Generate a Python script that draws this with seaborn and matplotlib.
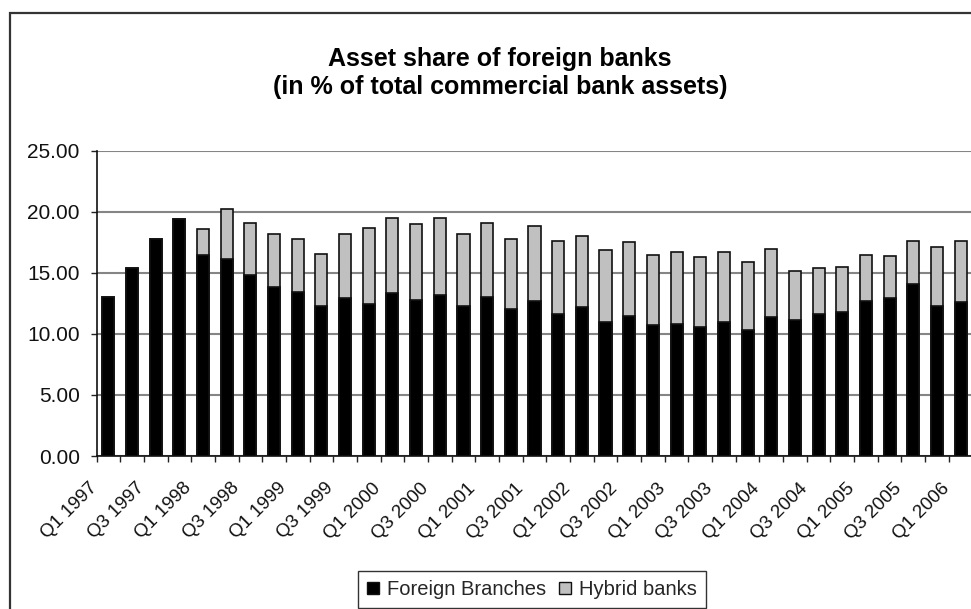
import matplotlib
matplotlib.use("Agg")
import matplotlib.pyplot as plt
from matplotlib.patches import Rectangle, Patch
from matplotlib.ticker import FixedLocator, FormatStrFormatter
from matplotlib.transforms import ScaledTranslation
import numpy as np
import pandas as pd
import seaborn as sns

# Quarterly observations, Q1 1997 .. Q1 2006
quarters = [
    "Q1 1997", "Q2 1997", "Q3 1997", "Q4 1997",
    "Q1 1998", "Q2 1998", "Q3 1998", "Q4 1998",
    "Q1 1999", "Q2 1999", "Q3 1999", "Q4 1999",
    "Q1 2000", "Q2 2000", "Q3 2000", "Q4 2000",
    "Q1 2001", "Q2 2001", "Q3 2001", "Q4 2001",
    "Q1 2002", "Q2 2002", "Q3 2002", "Q4 2002",
    "Q1 2003", "Q2 2003", "Q3 2003", "Q4 2003",
    "Q1 2004", "Q2 2004", "Q3 2004", "Q4 2004",
    "Q1 2005", "Q2 2005", "Q3 2005", "Q4 2005",
    "Q1 2006",
]

# Share of total commercial bank assets (%)
foreign_branches = [
    13.04, 15.42, 17.79, 19.37, 16.45, 16.10, 14.79, 13.86, 13.45, 12.28,
    12.96, 12.41, 13.31, 12.80, 13.18, 12.28, 13.04, 12.01, 12.66, 11.62,
    12.17, 10.97, 11.49, 10.70, 10.83, 10.59, 10.97, 10.31, 11.38, 11.10,
    11.62, 11.76, 12.69, 12.90, 14.10, 12.28, 12.65,
]
hybrid_banks = [
    0.00, 0.00, 0.00, 0.00, 2.10, 4.15, 4.31, 4.31, 4.31, 4.28,
    5.21, 6.28, 6.14, 6.16, 6.27, 5.89, 6.06, 5.75, 6.17, 6.01,
    5.87, 5.86, 6.03, 5.73, 5.87, 5.70, 5.73, 5.60, 5.59, 4.02,
    3.77, 3.74, 3.74, 3.50, 3.52, 4.82, 4.97,
]

# Every other quarter carries a label
shown_labels = quarters[::2]

df = pd.DataFrame({
    "quarter": quarters,
    "branches": foreign_branches,
    "hybrid": hybrid_banks,
})
df["total"] = df["branches"] + df["hybrid"]

sns.set_theme(style="white")
plt.rcParams["font.family"] = ["Liberation Sans", "DejaVu Sans"]

W, H = 971, 609
fig = plt.figure(figsize=(W / 100, H / 100), dpi=100)
fig.patch.set_facecolor("white")

ax_left, ax_right = 96.5 / W, 972.5 / W
ax_bottom, ax_top = 1 - 456 / H, 1 - 150.7 / H
ax = fig.add_axes([ax_left, ax_bottom, ax_right - ax_left, ax_top - ax_bottom])

BLACK = "#000000"
GREY = "#c0c0c0"
EDGE = "#111111"

# Stacked bars: full height in grey, branch share in black over it
sns.barplot(data=df, x="quarter", y="total", color=GREY, width=0.51,
            edgecolor=EDGE, linewidth=1.2, saturation=1, ax=ax, zorder=3)
sns.barplot(data=df, x="quarter", y="branches", color=BLACK, width=0.51,
            edgecolor=EDGE, linewidth=1.2, saturation=1, ax=ax, zorder=4)

ax.set_xlim(-0.5, len(quarters) - 0.5)
ax.set_ylim(0, 25)
ax.set_xlabel("")
ax.set_ylabel("")

# Y axis
ax.set_yticks(np.arange(0, 25.01, 5))
ax.yaxis.set_major_formatter(FormatStrFormatter("%.2f"))
ax.yaxis.grid(True, color="#858585", linewidth=1.5, zorder=0)
ax.set_axisbelow(True)
ax.tick_params(axis="y", direction="out", length=4.5, width=1, color="#222222",
               labelsize=15, pad=7.5, left=True, labelcolor="#111111")

# X axis: boundary ticks, labels on every other category
pos = np.arange(0, len(quarters), 2)
ax.xaxis.set_major_locator(FixedLocator(pos))
ax.set_xticklabels(shown_labels, rotation=45, ha="right",
                   rotation_mode="anchor", fontsize=13.5, color="#111111")
ax.xaxis.set_minor_locator(FixedLocator(np.arange(-0.5, len(quarters), 1.0)))
ax.tick_params(axis="x", which="major", length=0, pad=17, bottom=True)
ax.tick_params(axis="x", which="minor", direction="out", length=4.5, width=1,
               color="#222222", bottom=True)
shift = ScaledTranslation(-20 / 100, 0, fig.dpi_scale_trans)
for lab in ax.get_xticklabels():
    lab.set_transform(lab.get_transform() + shift)

for side in ("top", "right"):
    ax.spines[side].set_visible(False)
ax.spines["left"].set_color("#111111")
ax.spines["left"].set_linewidth(1.2)
ax.spines["bottom"].set_color("#111111")
ax.spines["bottom"].set_linewidth(1.2)

# Title
fig.text(500 / W, 1 - 73 / H,
         "Asset share of foreign banks\n(in % of total commercial bank assets)",
         ha="center", va="center", fontsize=18, fontweight="bold",
         linespacing=1.2, color="#000000")

# Legend
handles = [
    Patch(facecolor=BLACK, edgecolor=EDGE, label="Foreign Branches"),
    Patch(facecolor=GREY, edgecolor=EDGE, label="Hybrid banks"),
]
leg = fig.legend(handles=handles, loc="upper center", ncol=2,
                 bbox_to_anchor=(532 / W, 1 - 561 / H), frameon=True,
                 fontsize=14.5, handlelength=0.6, handleheight=0.6,
                 handletextpad=0.4, columnspacing=0.6, borderpad=0.45,
                 fancybox=False)
leg.get_frame().set_edgecolor("#000000")
leg.get_frame().set_linewidth(1.0)

# Chart frame
fig.patches.append(Rectangle((10 / W, -0.05), 1.2, 1 - 13 / H + 0.05,
                             transform=fig.transFigure, fill=False,
                             edgecolor="#333333", linewidth=1.6))

fig.savefig("out.png", dpi=100)
